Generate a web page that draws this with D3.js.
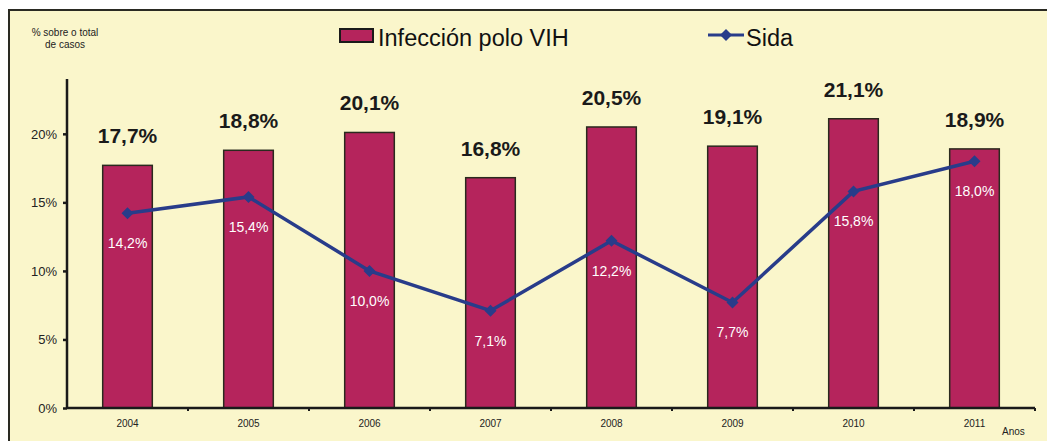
<!DOCTYPE html>
<html>
<head>
<meta charset="utf-8">
<script src="https://cdn.jsdelivr.net/npm/d3@7"></script>
<style>
  body { margin: 0; background: #fff; }
  text { font-family: "Liberation Sans", Arial, sans-serif; }
</style>
</head>
<body>
<div id="chart"></div>
<script>
// Data
const years = ["2004", "2005", "2006", "2007", "2008", "2009", "2010", "2011"];
const vih = [17.7, 18.8, 20.1, 16.8, 20.5, 19.1, 21.1, 18.9];
const sida = [14.2, 15.4, 10.0, 7.1, 12.2, 7.7, 15.8, 18.0];
const yTicks = [0, 5, 10, 15, 20];

const width = 1047;
const height = 441;
const margin = { top: 79, right: 12, bottom: 33, left: 67 };

const fmt = v => v.toFixed(1).replace(".", ",") + "%";

const svg = d3.select("#chart").append("svg")
    .attr("width", width)
    .attr("height", height);

// Background panel
svg.append("rect")
    .attr("x", 9).attr("y", 10)
    .attr("width", width - 9).attr("height", height - 10)
    .attr("fill", "#faf6cb");
svg.append("path")
    .attr("d", `M9,${height} V10 H${width}`)
    .attr("fill", "none")
    .attr("stroke", "#2a2a22")
    .attr("stroke-width", 2);

const x = d3.scaleBand().domain(years)
    .range([margin.left, width - margin.right]);

const y = d3.scaleLinear().domain([0, 24])
    .range([height - margin.bottom, margin.top]);

// Bars
const barW = x.bandwidth() * 0.41;
svg.selectAll("rect.bar")
    .data(vih)
    .join("rect")
    .attr("class", "bar")
    .attr("x", (d, i) => x(years[i]) + x.bandwidth() / 2 - barW / 2)
    .attr("y", d => y(d))
    .attr("width", barW)
    .attr("height", d => y(0) - y(d))
    .attr("fill", "#b5245c")
    .attr("stroke", "#2a2a1e")
    .attr("stroke-width", 1.5);

// Bar labels
svg.selectAll("text.barlab")
    .data(vih)
    .join("text")
    .attr("class", "barlab")
    .attr("x", (d, i) => x(years[i]) + x.bandwidth() / 2)
    .attr("y", d => y(d) - 22)
    .attr("text-anchor", "middle")
    .attr("font-size", 21)
    .attr("font-weight", "bold")
    .attr("fill", "#1a1a1a")
    .text(fmt);

// Axes
const yAxis = g => g
    .attr("transform", `translate(${margin.left},0)`)
    .call(d3.axisLeft(y).tickValues(yTicks).tickFormat(d => d + "%").tickSize(4).tickPadding(6))
    .call(g => g.select(".domain").attr("d", `M0,${y(0)}V${margin.top}`));

const xAxis = g => g
    .attr("transform", `translate(0,${y(0)})`)
    .call(d3.axisBottom(x).tickSize(0).tickPadding(12))
    .call(g => g.select(".domain").attr("d", `M${margin.left},0H${width - margin.right}`));

svg.append("g").call(yAxis)
    .call(g => g.selectAll("text").attr("font-size", 13).attr("fill", "#222"));
svg.append("g").call(xAxis)
    .call(g => g.selectAll("text").attr("font-size", 10).attr("fill", "#222"));

svg.selectAll(".domain").attr("stroke", "#1a1a1a").attr("stroke-width", 2.5);
svg.selectAll(".tick line").attr("stroke", "#1a1a1a").attr("stroke-width", 2.5);

// small ticks between categories on x axis
svg.append("g")
    .selectAll("line")
    .data(years.slice(1).concat(["end"]))
    .join("line")
    .attr("x1", (d, i) => margin.left + x.step() * (i + 1))
    .attr("x2", (d, i) => margin.left + x.step() * (i + 1))
    .attr("y1", y(0))
    .attr("y2", y(0) + 3)
    .attr("stroke", "#1a1a1a")
    .attr("stroke-width", 2);

// Line series
const line = d3.line()
    .x((d, i) => x(years[i]) + x.bandwidth() / 2)
    .y(d => y(d));

svg.append("path")
    .datum(sida)
    .attr("d", line)
    .attr("fill", "none")
    .attr("stroke", "#283c8a")
    .attr("stroke-width", 3.5);

const diamond = d3.symbol().type(d3.symbolSquare).size(72);
svg.selectAll("path.mark")
    .data(sida)
    .join("path")
    .attr("class", "mark")
    .attr("d", diamond)
    .attr("transform", (d, i) => `translate(${x(years[i]) + x.bandwidth() / 2},${y(d)}) rotate(45)`)
    .attr("fill", "#283c8a");

svg.selectAll("text.linelab")
    .data(sida)
    .join("text")
    .attr("class", "linelab")
    .attr("x", (d, i) => x(years[i]) + x.bandwidth() / 2)
    .attr("y", d => y(d) + 35)
    .attr("text-anchor", "middle")
    .attr("font-size", 14)
    .attr("fill", "#ffffff")
    .text(fmt);

// Axis titles
svg.append("text")
    .attr("x", 65).attr("y", 36)
    .attr("text-anchor", "middle")
    .attr("font-size", 10)
    .attr("fill", "#222")
    .call(t => t.append("tspan").attr("x", 65).text("% sobre o total"))
    .call(t => t.append("tspan").attr("x", 65).attr("dy", 12).text("de casos"));

svg.append("text")
    .attr("x", 1002).attr("y", 435)
    .attr("font-size", 10)
    .attr("fill", "#222")
    .text("Anos");

// Legend
svg.append("rect")
    .attr("x", 340).attr("y", 29)
    .attr("width", 33).attr("height", 13)
    .attr("fill", "#b5245c")
    .attr("stroke", "#1a1a1a")
    .attr("stroke-width", 2);
svg.append("text")
    .attr("x", 378).attr("y", 46)
    .attr("font-size", 23.5)
    .attr("fill", "#111")
    .text("Infección polo VIH");

svg.append("line")
    .attr("x1", 708).attr("x2", 744)
    .attr("y1", 35).attr("y2", 35)
    .attr("stroke", "#283c8a")
    .attr("stroke-width", 3);
svg.append("path")
    .attr("d", diamond)
    .attr("transform", "translate(726,35) rotate(45)")
    .attr("fill", "#283c8a");
svg.append("text")
    .attr("x", 746).attr("y", 46)
    .attr("font-size", 23.5)
    .attr("fill", "#111")
    .text("Sida");
</script>
</body>
</html>
